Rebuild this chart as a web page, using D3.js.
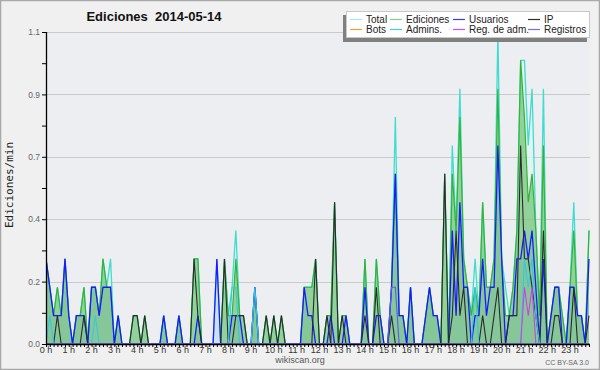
<!DOCTYPE html>
<html><head><meta charset="utf-8">
<script src="https://cdn.jsdelivr.net/npm/d3@7"></script>
<style>html,body{margin:0;padding:0;background:#f0f0f0;} svg{display:block;}</style>
</head><body><svg id="c" width="600" height="370"></svg>
<script>
const title = "Ediciones  2014-05-14";
const yLabel = "Ediciones/min";
const footer = "wikiscan.org";
const license = "CC BY-SA 3.0";
const hourLabels = ["0 h","1 h","2 h","3 h","4 h","5 h","6 h","7 h","8 h","9 h","10 h","11 h",
  "12 h","13 h","14 h","15 h","16 h","17 h","18 h","19 h","20 h","21 h","22 h","23 h"];
const yTicks = [0, 0.22, 0.44, 0.66, 0.88, 1.1];
const yTickLabels = ["0.0","0.2","0.4","0.7","0.9","1.1"];
const yMinorTicks = [0.11, 0.33, 0.55, 0.77, 0.99];
const seriesNames = ["Total","Ediciones","Usuarios","IP","Bots","Admins.","Reg. de adm.","Registros"];

// values in edits/min, one per 10-minute slot (6 per hour)
const total = [
 .3,.2,.1,.2,.1,.3,  .1,0,.1,.1,.2,0,  .2,.2,.1,.3,.2,.3,  0,.1,0,0,0,.1,
 .1,0,.1,0,0,0,  0,.1,0,0,0,.1,  0,0,0,.3,.3,0,  0,0,0,.3,0,.3,
 .1,.2,.4,.1,.1,0,  0,.2,0,0,.1,0,  .1,0,.1,0,0,0,  0,0,.2,.2,.2,.3,
 0,0,.1,.1,.5,0,  .1,.1,0,0,0,0,  .3,0,0,.3,.1,0,  0,.2,.8,.1,.1,0,
 .2,0,0,0,.1,.2,  .1,.1,0,.6,0,.7,  .4,.9,.3,.2,.1,.3,  .1,.5,.2,.2,.3,1.1,
 .3,.2,.1,.2,.4,1.0,  1.0,.7,.9,.4,.1,.9,  0,.1,.2,.2,.1,0,  .2,.5,.1,.1,0,.4];
const ediciones = [
 .3,.2,.1,.2,.1,.3,  .1,0,.1,.1,.2,0,  .2,.2,.1,.3,.2,.2,  0,.1,0,0,0,.1,
 .1,0,.1,0,0,0,  0,.1,0,0,0,.1,  0,0,0,.3,.3,0,  0,0,0,0,0,.3,
 .1,.1,.3,.1,.1,0,  0,.2,0,0,.1,0,  .1,0,.1,0,0,0,  0,0,.2,.2,.2,.3,
 0,0,.1,.1,.5,0,  .1,.1,0,0,0,0,  .3,0,0,.3,.1,0,  0,.2,.6,.1,.1,0,
 .2,0,0,0,.1,.2,  .1,.1,0,.6,0,.6,  .4,.8,.3,.2,.1,.2,  .1,.5,.2,.2,.3,.9,
 .3,.1,.1,.2,.4,1.0,  .8,.5,.6,.4,.1,.7,  0,.1,.2,.2,.1,0,  .2,.4,.1,.1,0,.4];
const usuarios = [
 .3,.2,.1,.1,.1,.3,  .1,0,.1,.1,.1,0,  .2,.2,.1,.2,.2,.2,  0,.1,0,0,0,0,
 0,0,0,0,0,0,  0,.1,0,0,0,.1,  0,0,0,0,.1,0,  0,0,0,.3,0,0,
 0,.1,.1,.1,0,0,  0,.2,0,0,0,0,  0,0,0,0,0,0,  0,0,.2,.1,.1,0,
 0,0,0,.1,0,0,  0,.1,0,0,0,0,  .2,0,0,.1,.1,0,  0,.2,.6,.1,.1,0,
 .2,0,0,0,.1,.2,  .1,.1,0,0,0,.4,  .1,.5,.2,.2,0,.1,  .1,.3,.1,.2,.2,.7,
 .3,0,.1,.1,.3,.3,  .4,.3,.4,.2,0,.3,  0,.1,.2,.2,0,0,  .2,.2,.1,.1,0,.3];
const ip = [
 0,0,0,.1,0,0,  0,0,0,0,.1,0,  0,0,0,0,0,0,  0,0,0,0,0,.1,
 .1,0,.1,0,0,0,  0,0,0,0,0,0,  0,0,0,.3,.1,0,  0,0,0,0,0,.3,
 0,0,.1,.1,.1,0,  0,0,0,0,.1,0,  .1,0,.1,0,0,0,  0,0,0,0,0,.3,
 0,0,.1,0,.5,0,  .1,0,0,0,0,0,  .1,0,0,.2,0,0,  0,.1,0,0,0,0,
 0,0,0,0,0,0,  0,0,0,.6,0,.1,  .4,.1,.2,0,0,0,  0,.1,0,0,.1,.2,
 0,0,.1,.1,.1,.7,  .3,.3,.2,.1,0,.4,  0,0,.1,.1,0,0,  0,.2,0,0,0,.1];
const bots = [
 0,0,0,0,0,0,  0,0,0,0,0,0,  0,0,0,0,0,0,  0,0,0,0,0,0,
 0,0,0,0,0,0,  0,0,0,0,0,0,  0,0,0,0,0,0,  0,0,0,0,0,0,
 0,0,0,0,0,0,  0,0,0,0,0,0,  0,0,0,0,0,0,  0,0,0,0,0,0,
 0,0,0,0,0,0,  0,0,0,0,0,0,  0,0,0,0,0,0,  0,0,0,0,0,0,
 0,0,0,0,0,0,  0,0,0,0,0,0,  0,0,0,0,0,0,  0,0,0,0,0,0,
 0,0,0,0,0,0,  0,0,0,0,0,0,  0,0,0,0,0,0,  0,0,0,0,0,0];
const admins = [
 0,.1,0,0,0,0,  0,0,0,0,0,0,  0,.1,0,0,0,0,  0,0,0,0,0,0,
 0,0,0,0,0,0,  0,0,0,0,0,0,  0,0,0,0,0,0,  0,0,0,0,0,0,
 0,.2,.2,0,0,0,  0,.2,0,0,0,0,  0,0,0,0,0,0,  0,0,0,0,0,0,
 0,0,0,0,0,0,  0,0,0,0,0,0,  0,0,0,0,0,0,  0,0,0,0,0,0,
 0,0,0,0,0,0,  0,0,0,0,0,0,  0,0,0,0,0,.2,  0,0,0,0,0,0,
 0,0,0,0,0,0,  .3,.2,.3,.1,0,0,  0,0,0,0,0,0,  0,0,0,0,0,0];
const regAdm = [
 0,0,0,0,0,0,  0,0,0,0,0,0,  0,0,0,0,0,0,  0,0,0,0,0,0,
 0,0,0,0,0,0,  0,0,0,0,0,0,  0,0,0,0,0,0,  0,0,0,0,0,0,
 0,0,0,0,0,0,  0,0,0,0,0,0,  0,0,0,0,0,0,  0,0,0,0,0,0,
 0,0,0,0,0,0,  0,0,0,0,0,0,  0,0,0,0,0,0,  0,0,0,0,0,0,
 0,0,0,0,0,0,  0,0,0,0,0,0,  0,0,0,0,0,0,  0,0,0,0,0,0,
 0,0,0,0,0,0,  .2,.1,.2,0,0,0,  0,0,0,0,0,0,  0,0,0,0,0,0];
const registros = [
 0,0,0,0,0,0,  0,0,0,0,0,0,  0,0,0,0,0,0,  0,0,0,0,0,0,
 0,0,0,0,0,0,  0,0,0,0,0,0,  0,0,0,0,0,0,  0,0,0,0,0,0,
 0,0,0,0,0,0,  0,0,0,0,0,0,  0,0,0,0,0,0,  0,0,0,0,0,0,
 0,0,0,0,0,0,  0,0,0,0,0,0,  0,0,0,0,0,0,  0,.2,.2,0,0,0,
 0,0,0,0,0,0,  0,0,0,0,0,0,  0,0,0,0,0,0,  0,0,0,0,0,0,
 0,0,0,0,0,0,  0,0,0,0,0,0,  0,0,0,0,0,0,  0,0,0,0,0,0];

const svg = d3.select("#c");
const W = 600, H = 370;
const L = 46, R = 589, T = 32, B = 344;

svg.append("rect").attr("x",0.5).attr("y",0.5).attr("width",W-1).attr("height",H-1)
  .attr("fill","#f0f0f0").attr("stroke","#a8a8a8").attr("stroke-width",1.5);

const x = d3.scaleLinear().domain([0, total.length - 1]).range([L, R]);
const y = d3.scaleLinear().domain([0, 1.1]).range([B, T]);

// plot background
svg.append("rect").attr("x",L).attr("y",T).attr("width",R-L+1).attr("height",B-T)
  .attr("fill","#eceef1");

// grid
svg.append("g").selectAll("line").data(yTicks.slice(1)).join("line")
  .attr("x1",L).attr("x2",R+1).attr("y1",d=>Math.round(y(d))+0.5).attr("y2",d=>Math.round(y(d))+0.5)
  .attr("stroke","#cacaca").attr("stroke-width",1);

svg.append("clipPath").attr("id","clip").append("rect")
  .attr("x",L).attr("y",T-2).attr("width",R-L+1).attr("height",B-T+2);
const plot = svg.append("g").attr("clip-path","url(#clip)");

const area = d3.area().x((d,i)=>x(i)).y0(y(0)).y1(d=>y(d));
const line = d3.line().x((d,i)=>x(i)).y(d=>y(d));

plot.append("path").datum(total).attr("d",area).attr("fill","rgba(220,248,244,0.6)");
plot.append("path").datum(usuarios).attr("d",area).attr("fill","rgba(60,100,240,0.13)");
plot.append("path").datum(ediciones).attr("d",area).attr("fill","rgba(55,170,55,0.47)");

const lines = [
  [total, "#3fdccf", 1.3],
  [ediciones, "#35b335", 1.2],
  [usuarios, "#1a1aff", 1.3],
  [ip, "#2b2b2b", 1.1],
  [bots, "#f0a030", 1.1],
  [admins, "#36c8dc", 1.1],
  [regAdm, "#d040e0", 1.1],
  [registros, "#5a5af0", 1.1]
];
lines.forEach(([data, col, w]) => {
  if (d3.max(data) === 0) return;
  plot.append("path").datum(data).attr("d",line).attr("fill","none")
    .attr("stroke",col).attr("stroke-width",w).attr("stroke-linejoin","miter");
});

// Y axis
const yAxis = d3.axisLeft(y).tickValues(yTicks.concat(yMinorTicks)).tickSize(4)
  .tickPadding(2).tickFormat(d => { const k = yTicks.indexOf(d); return k >= 0 ? yTickLabels[k] : ""; });
const gy = svg.append("g").attr("transform",`translate(${L},0)`).call(yAxis);
gy.select(".domain").attr("stroke","#000").attr("stroke-width",1.3).attr("d",`M0.5,${T}V${B}`);
gy.selectAll(".tick line").attr("stroke","#000");
gy.selectAll("text").attr("fill","#666").style("font","8.5px 'Liberation Sans', Arial, sans-serif");

// X axis: minor ticks every 10 min
const xAxis = d3.axisBottom(x).tickValues(d3.range(0, total.length)).tickSize(3).tickFormat("");
const gx = svg.append("g").attr("transform",`translate(0,${B})`).call(xAxis);
gx.select(".domain").attr("stroke","#000").attr("stroke-width",1.6).attr("d",`M${L},0.5H${R+1}`);
gx.selectAll(".tick line").attr("stroke","#000");

svg.append("g").selectAll("text").data(hourLabels).join("text")
  .attr("x",(d,i)=>x(i*6)).attr("y",353).attr("text-anchor","middle")
  .attr("fill","#333").style("font","9px 'Liberation Sans', Arial, sans-serif").text(d=>d);

// titles
svg.append("text").attr("x",154).attr("y",21).attr("text-anchor","middle")
  .style("white-space","pre").style("font","bold 13px 'Liberation Sans', Arial, sans-serif")
  .attr("fill","#111").text(title);
svg.append("text").attr("transform","translate(13,185) rotate(-90)").attr("text-anchor","middle")
  .style("font","11px 'DejaVu Sans Mono', monospace").attr("fill","#222").text(yLabel);
svg.append("text").attr("x",300).attr("y",363).attr("text-anchor","middle")
  .style("font","9px 'Liberation Sans', Arial, sans-serif").attr("fill","#555").text(footer);
svg.append("text").attr("x",589).attr("y",365).attr("text-anchor","end")
  .style("font","7px 'Liberation Sans', Arial, sans-serif").attr("fill","#666").text(license);

// legend
const lg = svg.append("g");
lg.append("rect").attr("x",343).attr("y",15).attr("width",244).attr("height",27).attr("fill","#808080");
lg.append("rect").attr("x",346.5).attr("y",11.5).attr("width",243).attr("height",26)
  .attr("fill","#ffffff").attr("stroke","#c8c8c8");
const legendColors = ["#a8e8e8","#80d080","#3a3af0","#303030","#f0a030","#40d0e0","#d050e0","#7070f0"];
const colX = [350, 390, 453, 528];
seriesNames.forEach((name, k) => {
  const c = k % 4, r = Math.floor(k / 4);
  const yy = 19.5 + r * 10;
  lg.append("line").attr("x1",colX[c]).attr("x2",colX[c]+12).attr("y1",yy).attr("y2",yy)
    .attr("stroke",legendColors[k]).attr("stroke-width",1.2);
  lg.append("text").attr("x",colX[c]+16).attr("y",yy+3.5)
    .style("font","10px 'Liberation Sans', Arial, sans-serif").attr("fill","#222").text(name);
});
</script></body></html>
